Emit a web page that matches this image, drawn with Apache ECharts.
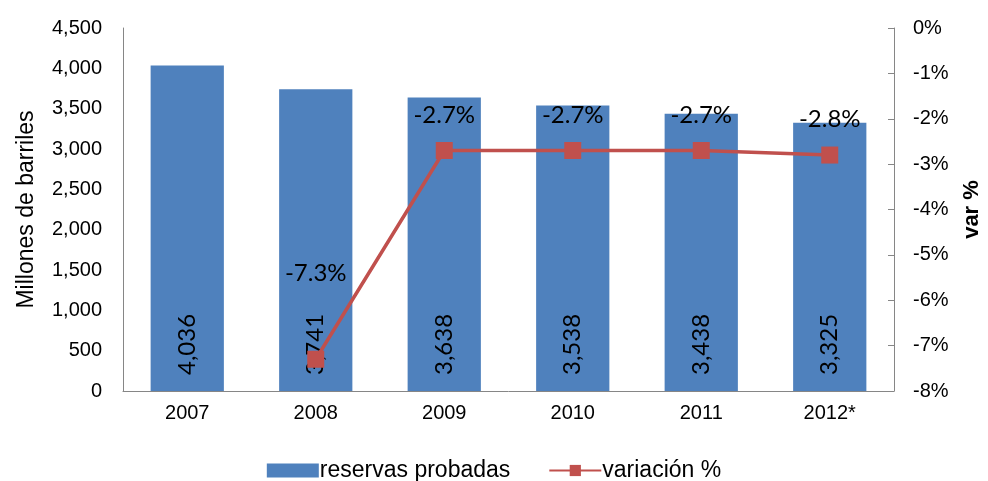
<!DOCTYPE html>
<html lang="es">
<head>
<meta charset="UTF-8">
<title>Reservas probadas</title>
<script src="https://cdn.jsdelivr.net/npm/echarts@6/dist/echarts.min.js"></script>
<style>
  html, body { margin: 0; padding: 0; background: #fff; }
  #chart { width: 988px; height: 481px; }
</style>
</head>
<body>
<div id="chart"></div>
<script>
  var years = ['2007', '2008', '2009', '2010', '2011', '2012*'];
  var reservas = [4036, 3741, 3638, 3538, 3438, 3325];
  var variacion = [null, -7.3, -2.7, -2.7, -2.7, -2.8];

  var chart = echarts.init(document.getElementById('chart'));
  var axisFont = { fontFamily: 'Liberation Sans, Arial', fontSize: 20, color: '#000' };
  var labelFont = 'Lato, Carlito, sans-serif';

  // la etiqueta de 2008 queda mucho mas arriba del punto en el original
  var lineData = variacion.map(function (v, i) {
    var d = { value: v };
    if (i === 1) d.label = { offset: [0, -50] };
    return d;
  });

  chart.setOption({
    animation: false,
    grid: { left: 123, right: 94, top: 28, bottom: 90, outerBoundsMode: 'none', containLabel: false },
    legend: {
      bottom: -6,
      left: 'center',
      itemWidth: 52,
      itemHeight: 14,
      itemGap: 38,
      textStyle: { fontFamily: 'Liberation Sans, Arial', fontSize: 23, color: '#000', padding: [0, 0, 0, -4] },
      data: [
        { name: 'reservas probadas', icon: 'rect', itemStyle: { borderWidth: 0 } },
        { name: 'variación %' }
      ]
    },
    xAxis: {
      type: 'category',
      data: years,
      axisLine: { lineStyle: { color: '#868686' } },
      axisTick: { show: false },
      axisLabel: Object.assign({ margin: 12 }, axisFont)
    },
    yAxis: [
      {
        type: 'value',
        min: 0, max: 4500, interval: 500,
        name: 'Millones de barriles',
        nameLocation: 'middle',
        nameGap: 85,
        nameRotate: 90,
        nameTextStyle: Object.assign({}, axisFont, { fontSize: 23 }),
        axisLine: { show: true, lineStyle: { color: '#868686' } },
        axisTick: { show: false },
        splitLine: { show: false },
        axisLabel: Object.assign({
          margin: 21,
          formatter: function (v) { return v.toLocaleString('en-US'); }
        }, axisFont)
      },
      {
        type: 'value',
        min: -8, max: 0, interval: 1,
        position: 'right',
        name: 'var %',
        nameLocation: 'middle',
        nameGap: 67,
        nameRotate: 90,
        nameTextStyle: Object.assign({}, axisFont, { fontSize: 22, fontWeight: 'bold' }),
        axisLine: { show: true, lineStyle: { color: '#868686' } },
        axisTick: { show: true, inside: true, length: 6, lineStyle: { color: '#868686' } },
        splitLine: { show: false },
        axisLabel: Object.assign({ margin: 19, formatter: '{value}%' }, axisFont)
      }
    ],
    series: [
      {
        name: 'reservas probadas',
        type: 'bar',
        data: reservas,
        barWidth: '57%',
        itemStyle: { color: '#4F81BD' },
        label: {
          show: true,
          position: 'insideBottom',
          rotate: 90,
          align: 'left',
          verticalAlign: 'middle',
          distance: 16,
          fontFamily: labelFont,
          fontSize: 24,
          color: '#000',
          formatter: function (p) { return p.value.toLocaleString('en-US'); }
        }
      },
      {
        name: 'variación %',
        type: 'line',
        yAxisIndex: 1,
        data: lineData,
        symbol: 'rect',
        symbolSize: 17,
        lineStyle: { color: '#C0504D', width: 3.5 },
        itemStyle: { color: '#C0504D' },
        z: 3,
        label: {
          show: true,
          position: 'top',
          distance: 15,
          fontFamily: labelFont,
          fontSize: 24,
          color: '#000',
          formatter: function (p) { return p.value.toFixed(1) + '%'; }
        }
      }
    ]
  });
</script>
</body>
</html>
